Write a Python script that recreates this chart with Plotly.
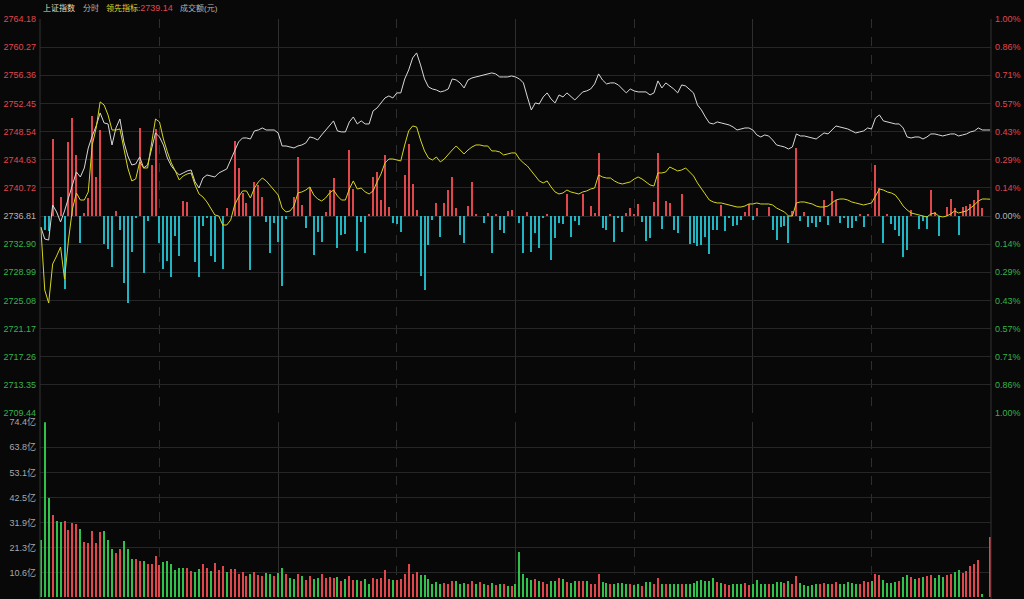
import plotly.graph_objects as go

W, H = 1024, 599

# ---------------- data ----------------
minutes = list(range(241))          # 9:30 .. 11:30 | 13:01 .. 15:00
prev_close = 2736.81
price_step = 3.91

price = [
2735.28, 2733.61, 2733.47, 2738.34, 2737.37, 2735.98, 2737.51, 2739.45, 2741.12, 2742.93,
2742.23, 2743.48, 2746.26, 2747.93, 2749.32, 2751.13, 2749.74, 2749.60, 2746.68, 2749.04,
2750.29, 2747.10, 2745.15, 2743.90, 2744.04, 2745.01, 2743.48, 2743.90, 2746.26, 2748.35,
2747.79, 2746.68, 2744.87, 2743.76, 2743.07, 2742.51, 2742.79, 2743.07, 2743.20, 2741.54,
2740.70, 2742.09, 2742.51, 2742.37, 2742.23, 2742.79, 2743.07, 2743.34, 2744.59, 2745.98,
2747.10, 2747.65, 2747.65, 2747.51, 2748.63, 2748.76, 2749.04, 2748.76, 2748.76, 2748.76,
2748.35, 2746.54, 2746.54, 2746.40, 2746.26, 2746.54, 2746.68, 2746.96, 2747.79, 2747.65,
2747.37, 2748.07, 2748.76, 2749.46, 2750.02, 2748.63, 2748.49, 2748.49, 2749.88, 2750.57,
2749.60, 2750.02, 2749.60, 2749.60, 2751.41, 2751.82, 2752.52, 2753.21, 2753.49, 2753.21,
2753.91, 2753.91, 2755.85, 2757.10, 2758.77, 2759.47, 2757.80, 2755.85, 2754.74, 2754.46,
2754.32, 2754.05, 2754.19, 2754.46, 2755.85, 2755.71, 2755.30, 2754.60, 2755.71, 2755.99,
2756.13, 2756.27, 2756.41, 2756.55, 2756.69, 2756.55, 2756.13, 2756.13, 2756.13, 2756.27,
2756.13,
2755.85, 2755.30, 2753.35, 2751.54, 2752.52, 2752.38, 2753.35, 2753.91, 2753.07,
2752.52, 2753.63, 2753.35, 2753.91, 2753.35, 2752.93, 2753.49, 2754.05, 2754.19, 2754.46,
2755.16, 2756.55, 2755.71, 2755.16, 2755.30, 2755.30, 2755.02, 2754.46, 2753.91, 2754.46,
2754.19, 2754.05, 2754.05, 2754.05, 2753.63, 2753.91, 2755.58, 2754.60, 2755.30, 2754.88,
2754.46, 2753.91, 2755.02, 2754.88, 2754.46, 2753.91, 2752.24, 2751.54, 2750.57, 2749.74,
2749.60, 2749.88, 2749.74, 2749.60, 2749.46, 2749.18, 2748.76, 2748.90, 2749.04, 2749.04,
2748.76, 2748.07, 2747.79, 2748.07, 2747.93, 2747.37, 2746.68, 2746.54, 2746.40, 2746.12,
2746.40, 2748.21, 2747.93, 2747.93, 2747.79, 2747.65, 2747.51, 2747.93, 2748.35, 2748.21,
2748.76, 2749.32, 2749.18, 2749.04, 2748.90, 2748.63, 2748.35, 2748.49, 2748.63, 2749.04,
2748.90, 2750.43, 2750.85, 2750.02, 2749.88, 2749.74, 2749.60, 2749.60, 2749.04, 2747.79,
2747.65, 2747.79, 2747.79, 2747.51, 2747.79, 2748.21, 2748.21, 2748.07, 2747.93, 2748.07,
2748.21, 2748.21, 2747.93, 2748.07, 2748.21, 2748.49, 2748.63, 2749.04, 2748.76, 2748.76,
2748.76]

leading = [
2735.28, 2726.52, 2724.72, 2730.14, 2731.25, 2732.50, 2728.05, 2733.47, 2737.78, 2740.01,
2739.03, 2739.03, 2740.15, 2746.68, 2749.04, 2752.66, 2752.24, 2750.85, 2748.76, 2748.76,
2748.90, 2746.26, 2743.48, 2741.68, 2741.95, 2744.32, 2743.48, 2743.48, 2746.96, 2750.29,
2749.88, 2747.51, 2745.71, 2744.18, 2743.07, 2741.81, 2742.37, 2742.65, 2742.79, 2741.12,
2739.87, 2739.45, 2738.76, 2737.78, 2736.95, 2736.81, 2735.56, 2735.56, 2736.25, 2738.34,
2739.45, 2740.29, 2740.29, 2739.31, 2740.70, 2741.54, 2742.09, 2741.68, 2740.98, 2740.42,
2739.73, 2737.92, 2737.37, 2737.51, 2738.20, 2740.01, 2740.15, 2740.42, 2740.84, 2739.73,
2739.17, 2738.90, 2739.31, 2740.01, 2740.42, 2739.59, 2739.03, 2739.03, 2740.56, 2741.68,
2740.56, 2740.70, 2740.15, 2739.87, 2740.29, 2741.54, 2742.65, 2744.18, 2744.73, 2744.73,
2744.59, 2744.46, 2746.68, 2748.63, 2749.32, 2749.18, 2747.37, 2745.85, 2744.87, 2744.59,
2745.01, 2744.32, 2744.73, 2745.43, 2745.98, 2746.54, 2745.98, 2745.43, 2745.98, 2746.40,
2746.68, 2746.68, 2746.54, 2746.54, 2745.85, 2745.85, 2745.71, 2745.29, 2745.43, 2745.57,
2745.57,
2744.73, 2744.18, 2743.76, 2743.07, 2742.37, 2741.68, 2741.40, 2741.68, 2740.84,
2740.15, 2739.87, 2740.01, 2740.42, 2740.15, 2740.01, 2739.87, 2740.15, 2740.29, 2740.56,
2740.70, 2742.51, 2742.23, 2742.09, 2742.09, 2741.68, 2741.40, 2741.26, 2741.40, 2741.54,
2741.95, 2742.23, 2741.95, 2741.54, 2741.12, 2740.98, 2742.79, 2742.79, 2742.93, 2743.62,
2743.34, 2743.07, 2743.20, 2743.48, 2742.93, 2742.37, 2741.40, 2740.56, 2739.73, 2739.03,
2738.76, 2738.62, 2738.62, 2738.48, 2738.34, 2738.20, 2738.06, 2738.06, 2738.20, 2738.48,
2738.48, 2738.62, 2738.48, 2738.48, 2738.48, 2738.34, 2737.92, 2737.64, 2737.37, 2736.81,
2736.81, 2738.62, 2738.76, 2738.76, 2738.62, 2738.48, 2738.20, 2738.06, 2738.06, 2738.20,
2738.62, 2739.03, 2739.17, 2739.17, 2739.03, 2738.76, 2738.62, 2738.48, 2738.34, 2738.48,
2738.62, 2739.59, 2740.56, 2740.42, 2740.15, 2740.01, 2739.73, 2739.03, 2738.20, 2737.64,
2737.23, 2737.09, 2736.95, 2736.81, 2736.67, 2737.09, 2737.23, 2736.81, 2736.67, 2736.81,
2737.09, 2737.51, 2737.23, 2737.37, 2737.51, 2737.92, 2738.34, 2738.90, 2739.17, 2739.17,
2739.14]

# buy/sell strength bars drawn around the previous close (index points)
strength = [
0, -1.95, -2.1, 10.66, 0, 2.68, -10.19, 10.33, 13.58, 8.48,
-3.71, 0.42, 2.46, 13.9, 5.38, 11.95, -3.89, -4.63, -7.05, 0.74,
-1.95, -9.27, -12.05, -4.96, -0.3, 12.19, -7.96, -0.65, 7.09, 12.05,
-3.71, -7.41, -6.21, -8.52, -2.74, -5.56, 2.13, 1.99, 0, -6.35,
-8.44, -1.39, -0.3, -5.56, -6.35, 0, -7.41, 1.07, 0, 10.47,
6.63, 3.16, 1.77, -7.51, 4.77, 4.31, 2.68, -0.79, -5.10, -0.93,
-3.57, -9.73, -0.46, 0, 2.60, 8.24, 1.53, -1.71, 4.07, -5.42,
-2.18, -3.57, 0.60, 3.61, 5.24, -4.49, -2.64, -2.50, 9.17, 3.71,
-4.82, -0.79, -5.10, 0.3, 5.46, 6.16, 2.22, 8.48, 1.29, -0.93,
-1.11, -2.18, 5.70, 10.01, 4.45, 0.83, -8.34, -10.29, -4.03, -0.56,
1.77, -2.96, 1.85, 3.61, 5.38, 1.07, -2.64, -3.79, 1.39, 4.77,
0.3, 0, -0.93, 0.46, -5.18, 0.3, -1.95, -2.32, 0.70, 0.83,
0,
-1.01, -5.10, 0.60, -4.96, -2.40, -4.49, -0.3, 0.28, -6.12,
-3.10, -1.01, -1.11, 3.06, -2.88, -0.65, -1.25, 3.06, 0, 1.39,
0.46, 8.80, -1.71, -1.95, 0.3, -3.57, -0.3, -2.18, 0.38, 1.07,
0.2, 1.67, -0.79, -3.43, -3.10, 1.99, 8.80, -1.85, 2.13, 1.77,
-1.95, -2.40, 3.06, 0, -3.89, -3.79, -4.17, -4.03, -2.88, -5.28,
-1.95, -1.95, 1.53, -2.04, -0.2, -1.35, -1.25, -0.56, 0.60, 1.67,
-0.56, 1.07, 0, 0, 1.21, -1.95, -3.34, -1.57, -1.39, -3.71,
0.74, 9.41, -0.65, 0.60, -1.49, -1.01, -1.57, -0.79, 2.22, -1.25,
3.52, 2.22, -0.93, -0.2, -1.71, -1.71, -0.65, 0.2, -1.49, 0.2,
0, 7.09, 3.85, -3.71, 0.2, -1.11, -1.95, -2.78, -5.66, -4.73,
0.83, 0, -1.85, -0.65, -1.85, 3.61, 0.60, -2.78, 0, 1.21,
2.32, 1.07, -2.64, 1.21, 1.39, 1.67, 2.22, 3.61, 1.07, 0,
0]

# turnover, 亿元 per minute
turnover = [
24.4, 74.4, 42.3, 34.8, 32.4, 31.8, 32.4, 28.4, 31.6, 31.2,
28.9, 23.6, 23.2, 28.1, 23.0, 27.5, 28.2, 24.4, 20.5, 18.8,
20.5, 23.7, 20.5, 16.2, 16.2, 15.5, 15.4, 14.0, 14.0, 17.4,
13.7, 14.8, 15.3, 14.2, 11.5, 12.4, 12.4, 12.4, 11.1, 10.8,
12.1, 14.0, 12.4, 11.1, 14.5, 11.7, 13.3, 10.7, 12.1, 12.0,
9.7, 10.7, 9.1, 10.0, 10.7, 9.4, 9.0, 10.3, 9.7, 9.1,
10.3, 12.4, 10.0, 8.0, 7.7, 9.7, 8.8, 7.4, 8.8, 7.7,
8.0, 10.0, 8.0, 8.4, 8.0, 8.6, 7.0, 7.7, 9.1, 7.4,
7.3, 6.8, 7.7, 5.7, 8.1, 7.7, 8.1, 11.5, 7.7, 7.3,
7.4, 7.7, 10.0, 14.2, 9.7, 10.7, 9.4, 9.3, 7.7, 5.7,
6.4, 5.7, 6.0, 5.7, 7.0, 6.8, 5.6, 6.0, 5.7, 6.8,
5.7, 6.3, 5.6, 5.1, 6.0, 5.1, 5.7, 5.6, 4.8, 4.6,
5.4,
19.4, 10.0, 8.3, 7.4, 7.7, 6.7, 6.4, 5.7, 7.0,
6.7, 8.1, 7.7, 6.4, 6.0, 6.7, 7.0, 6.7, 6.7, 5.7,
5.7, 10.0, 6.4, 6.0, 5.6, 5.7, 6.0, 6.0, 5.4, 5.6,
5.1, 5.6, 4.8, 6.4, 6.4, 5.4, 8.0, 5.7, 5.6, 5.6,
5.4, 5.4, 5.7, 5.7, 5.7, 6.0, 7.0, 7.3, 6.8, 6.8,
8.0, 6.4, 6.0, 5.7, 5.1, 5.4, 5.7, 5.7, 6.0, 5.1,
5.7, 7.3, 5.7, 5.4, 5.7, 5.7, 6.4, 6.4, 6.0, 6.8,
5.4, 9.0, 6.0, 5.1, 4.8, 5.1, 5.6, 5.7, 6.0, 5.6,
5.7, 6.4, 5.7, 5.6, 6.4, 6.0, 5.6, 5.7, 6.7, 6.4,
6.8, 9.7, 9.4, 7.3, 6.0, 6.1, 6.4, 6.8, 8.6, 9.4,
8.4, 7.7, 8.0, 8.7, 9.0, 9.3, 8.1, 9.4, 8.4, 9.4,
10.0, 10.7, 11.5, 10.3, 11.1, 13.3, 14.2, 15.8, 1.3, 0.0,
25.5]

# r = up minute, g = down minute
turnover_dir = list(
    "gggrggrrrr" "grrrrrgggr" "rgggrrgrrr" "rggggggrrg" "grrgrrrgrr"
    "rrrgrrrggr" "ggrggrgrrg" "grrrrgrgrr" "grggrrrrrg" "rrrrrrgggg"
    "ggrrrgggrr" "grgrgrgrgr" "g"
    "ggggrgrrg" "grgrggrrgr" "rrggrggggr" "ggrggrrgrg" "ggrggggggg"
    "grgrrgggrr" "ggggrgggrg" "rrgggggrrg" "rrgggggrrr" "grrggggrgg"
    "rgrgrrgggr" "rggrrrrrgg" "r")

turnover_max = 74.4
header_value = 2739.14

# ---------------- styling ----------------
BG = "#080808"
GRID = "#262626"
VGRID = "#2e2e2e"
RED = "#e0474c"
GREEN = "#36b34a"
GRAY = "#b4b4b4"
CYAN = "#1fb5c2"
FONT = "Liberation Sans, Noto Sans CJK SC, sans-serif"

price_ticks = [round(prev_close + price_step * k, 2) for k in range(-7, 8)]

def col_for(v):
    if v > prev_close + 1e-6:
        return RED
    if v < prev_close - 1e-6:
        return GREEN
    return GRAY

left_text = [f"<span style='color:{col_for(v)}'>{v:.2f}</span>" for v in price_ticks]
right_text = [f"<span style='color:{col_for(v)}'>{abs((v - prev_close) / prev_close * 100):.2f}%</span>"
              for v in price_ticks]

vol_step = turnover_max / 7
vol_ticks = [vol_step * k for k in range(1, 8)]
vol_text = [f"{v:.1f}亿" for v in vol_ticks]

strength_colors = [RED if s > 0 else CYAN for s in strength]
vol_colors = [RED if d == "r" else "#2fc24a" for d in turnover_dir]

def px_x(p):
    return p / W

def px_y(p):
    return 1 - p / H

fig = go.Figure()

BAR_W = 0.26

fig.add_trace(go.Bar(x=minutes, y=strength, base=prev_close, width=BAR_W,
                     marker=dict(color=strength_colors, line=dict(width=0)),
                     xaxis="x", yaxis="y", hoverinfo="skip"))
fig.add_trace(go.Scatter(x=minutes, y=price, mode="lines",
                         line=dict(color="#d8d8d8", width=1), xaxis="x", yaxis="y"))
fig.add_trace(go.Scatter(x=minutes, y=leading, mode="lines",
                         line=dict(color="#d6d61e", width=1), xaxis="x", yaxis="y"))
# carrier for the right-hand percentage axis
fig.add_trace(go.Scatter(x=minutes, y=price, mode="lines", opacity=0,
                         line=dict(width=0), xaxis="x", yaxis="y2", hoverinfo="skip"))
fig.add_trace(go.Bar(x=minutes, y=turnover, width=BAR_W,
                     marker=dict(color=vol_colors, line=dict(width=0)),
                     xaxis="x2", yaxis="y3", hoverinfo="skip"))

xdom = [px_x(40), px_x(991)]
xcommon = dict(domain=xdom, range=[-0.2, 240.2], showticklabels=False, ticks="",
               tickvals=[60, 120, 180], showgrid=True, gridcolor=VGRID, gridwidth=1,
               zeroline=False, showline=False, automargin=False,
               minor=dict(tickvals=[30, 90, 150, 210], showgrid=True,
                          gridcolor=VGRID, griddash="dash", ticks=""))

prange = [price_ticks[0] - 0.001, price_ticks[-1] + 0.001]

fig.update_layout(
    width=W, height=H, margin=dict(l=0, r=0, t=0, b=0, autoexpand=False),
    paper_bgcolor=BG, plot_bgcolor=BG, showlegend=False, bargap=0,
    font=dict(family=FONT, size=9, color=GRAY),
    xaxis=dict(anchor="y", **xcommon),
    xaxis2=dict(anchor="y3", matches="x", **xcommon),
    yaxis=dict(domain=[px_y(413), px_y(19)], range=prange, tickvals=price_ticks,
               ticktext=left_text, showgrid=True, gridcolor=GRID, zeroline=False,
               ticks="", tickfont=dict(size=9, family=FONT), ticklabelstandoff=3,
               anchor="x", side="left", automargin=False),
    yaxis2=dict(overlaying="y", side="right", range=prange, tickvals=price_ticks,
                ticktext=right_text, showgrid=False, zeroline=False, ticks="",
                tickfont=dict(size=9, family=FONT), ticklabelstandoff=3, anchor="x",
                automargin=False),
    yaxis3=dict(domain=[px_y(597.5), px_y(422.3)], range=[0, turnover_max],
                tickvals=vol_ticks, ticktext=vol_text, showgrid=True, gridcolor=GRID,
                zeroline=False, ticks="", tickfont=dict(size=9, family=FONT, color="#a8a8a8"),
                ticklabelstandoff=3, anchor="x2", side="left", automargin=False),
)

# panel borders
for xp in (40, 991):
    fig.add_shape(type="line", xref="paper", yref="paper",
                  x0=px_x(xp), x1=px_x(xp), y0=px_y(19), y1=0,
                  line=dict(color="#333333", width=1))

# header
header = [
    (41, "上证指数", "#e8dfb8"),
    (81, "分时", GRAY),
    (104, f"领先指标:<span style='color:{RED};font-size:9px'>{header_value:.2f}</span>", "#dcdc2a"),
    (178, "成交额(元)", GRAY),
]
for xp, txt, c in header:
    fig.add_annotation(x=px_x(xp), y=px_y(8), xref="paper", yref="paper",
                       text=txt, showarrow=False, xanchor="left", yanchor="middle",
                       font=dict(family=FONT, size=8, color=c))

fig.write_html("out.html", config={"displayModeBar": False},
               post_script="document.body.style.margin='0';document.body.style.background='#080808';")
